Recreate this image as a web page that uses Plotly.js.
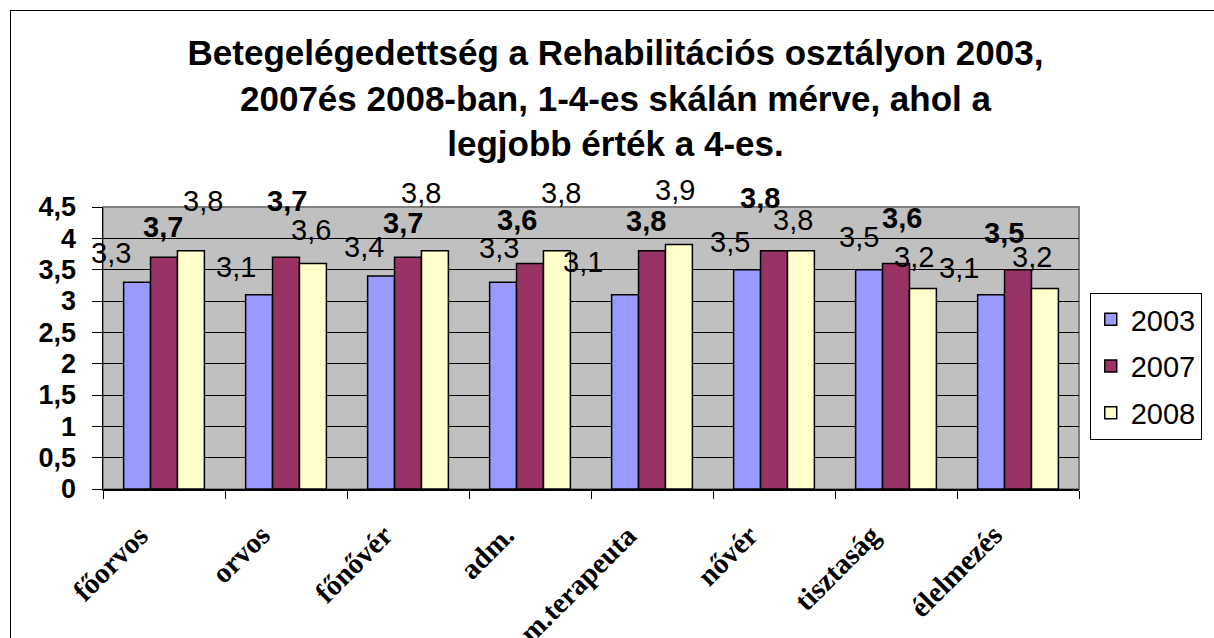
<!DOCTYPE html>
<html>
<head>
<meta charset="utf-8">
<script src="https://cdn.plot.ly/plotly-3.0.1.min.js"></script>
<style>
  body { margin: 0; background: #fff; }
  #wrap { position: relative; width: 1214px; height: 638px; overflow: hidden; }
  #chart { width: 1214px; height: 638px; }
  #frame { position: absolute; left: 10px; top: 10px; width: 1300px; height: 700px;
           border: 1px solid #000; pointer-events: none; }
</style>
</head>
<body>
<div id="wrap">
  <div id="chart"></div>
  <div id="frame"></div>
</div>
<script>
const categories = ["főorvos", "orvos", "főnővér", "adm.", "m.terapeuta", "nővér", "tisztaság", "élelmezés"];
const years = ["2003", "2007", "2008"];
const values2003 = [3.3, 3.1, 3.4, 3.3, 3.1, 3.5, 3.5, 3.1];
const values2007 = [3.7, 3.7, 3.7, 3.6, 3.8, 3.8, 3.6, 3.5];
const values2008 = [3.8, 3.6, 3.8, 3.8, 3.9, 3.8, 3.2, 3.2];
const colors = ["#9999FF", "#993366", "#FFFFCC"];

// hand-placed label offsets (px) as in the original sheet: [dx, up]
const labelShift = [
  [[-26, 29], [-23, 28], [-17, 29], [-4, 34], [-42, 33], [-17, 28], [-10, 33], [-32, 27]],
  [[-1, 30], [1, 56], [-5, 34], [-13, 43], [-6, 30], [-14, 53], [6, 45], [-14, 37]],
  [[12, 50], [-2, 33], [-14, 58], [4, 58], [-4, 55], [-8, 31], [-9, 31], [-13, 31]],
];

const series = [values2003, values2007, values2008];
const barOffset = [-27, 0, 27];
const fmt = v => String(v).replace(".", ",");

const traces = series.map((vals, i) => ({
  type: "bar",
  name: years[i],
  legendgroup: years[i],
  x: categories,
  y: vals,
  marker: {color: colors[i], line: {color: "#000", width: 1.5}},
  hoverinfo: "none",
}));

const annotations = [];
series.forEach((vals, s) => {
  vals.forEach((v, c) => {
    annotations.push({
      x: categories[c], y: v, xref: "x", yref: "y",
      text: s === 1 ? "<b>" + fmt(v) + "</b>" : fmt(v),
      showarrow: false,
      xshift: barOffset[s] + labelShift[s][c][0],
      yshift: labelShift[s][c][1],
      font: {family: "Liberation Sans, Arial", size: 29, color: "#000"},
    });
  });
});

// rotated category labels
categories.forEach((name, c) => {
  annotations.push({
    x: name, y: 0, xref: "x", yref: "paper",
    text: "<b>" + name + "</b>",
    showarrow: false,
    textangle: -45,
    xanchor: "right", yanchor: "top",
    xshift: -7, yshift: -27,
    font: {family: "Liberation Serif, Times New Roman", size: 29, color: "#000"},
  });
});

const layout = {
  width: 1214, height: 638,
  margin: {l: 103, r: 132, t: 207, b: 149},
  paper_bgcolor: "#fff",
  plot_bgcolor: "#C0C0C0",
  separators: ",.",
  font: {family: "Liberation Sans, Arial", color: "#000"},
  title: {
    text: "<b>Betegelégedettség a Rehabilitációs osztályon 2003,<br>2007és 2008-ban, 1-4-es skálán mérve, ahol a<br>legjobb érték a 4-es.</b>",
    font: {family: "Liberation Sans, Arial", size: 35, color: "#000"},
    xref: "container", x: 0.507, xanchor: "center",
    yref: "container", y: 0.898, yanchor: "top",
  },
  barmode: "group",
  bargap: 0.338,
  bargroupgap: 0,
  showlegend: true,
  legend: {
    x: 1.011, xanchor: "left", y: 0.695, yanchor: "top",
    bordercolor: "#000", borderwidth: 1, bgcolor: "#fff",
    font: {family: "Liberation Sans, Arial", size: 29, color: "#000"},
    traceorder: "grouped",
    tracegroupgap: 6,
  },
  xaxis: {
    type: "category",
    range: [-0.5, categories.length - 0.5],
    tickson: "boundaries",
    ticks: "outside", ticklen: 8, tickcolor: "#000",
    showline: true, linecolor: "#000", linewidth: 1.5,
    showticklabels: false,
    showgrid: false,
    fixedrange: true,
  },
  yaxis: {
    range: [0, 4.5], dtick: 0.5, tick0: 0,
    ticks: "outside", ticklen: 10, tickcolor: "#000",
    ticklabelstandoff: 10,
    showline: true, linecolor: "#000", linewidth: 1.5,
    gridcolor: "#000", gridwidth: 1,
    zeroline: false,
    tickfont: {family: "Liberation Sans, Arial", size: 27, weight: "bold", color: "#000"},
    fixedrange: true,
  },
  shapes: [{
    type: "rect", xref: "paper", yref: "paper", x0: 0, x1: 1, y0: 0, y1: 1,
    line: {color: "#808080", width: 2}, layer: "below",
  }],
  annotations: annotations,
};

Plotly.newPlot("chart", traces, layout, {displayModeBar: false, staticPlot: true});
</script>
</body>
</html>
